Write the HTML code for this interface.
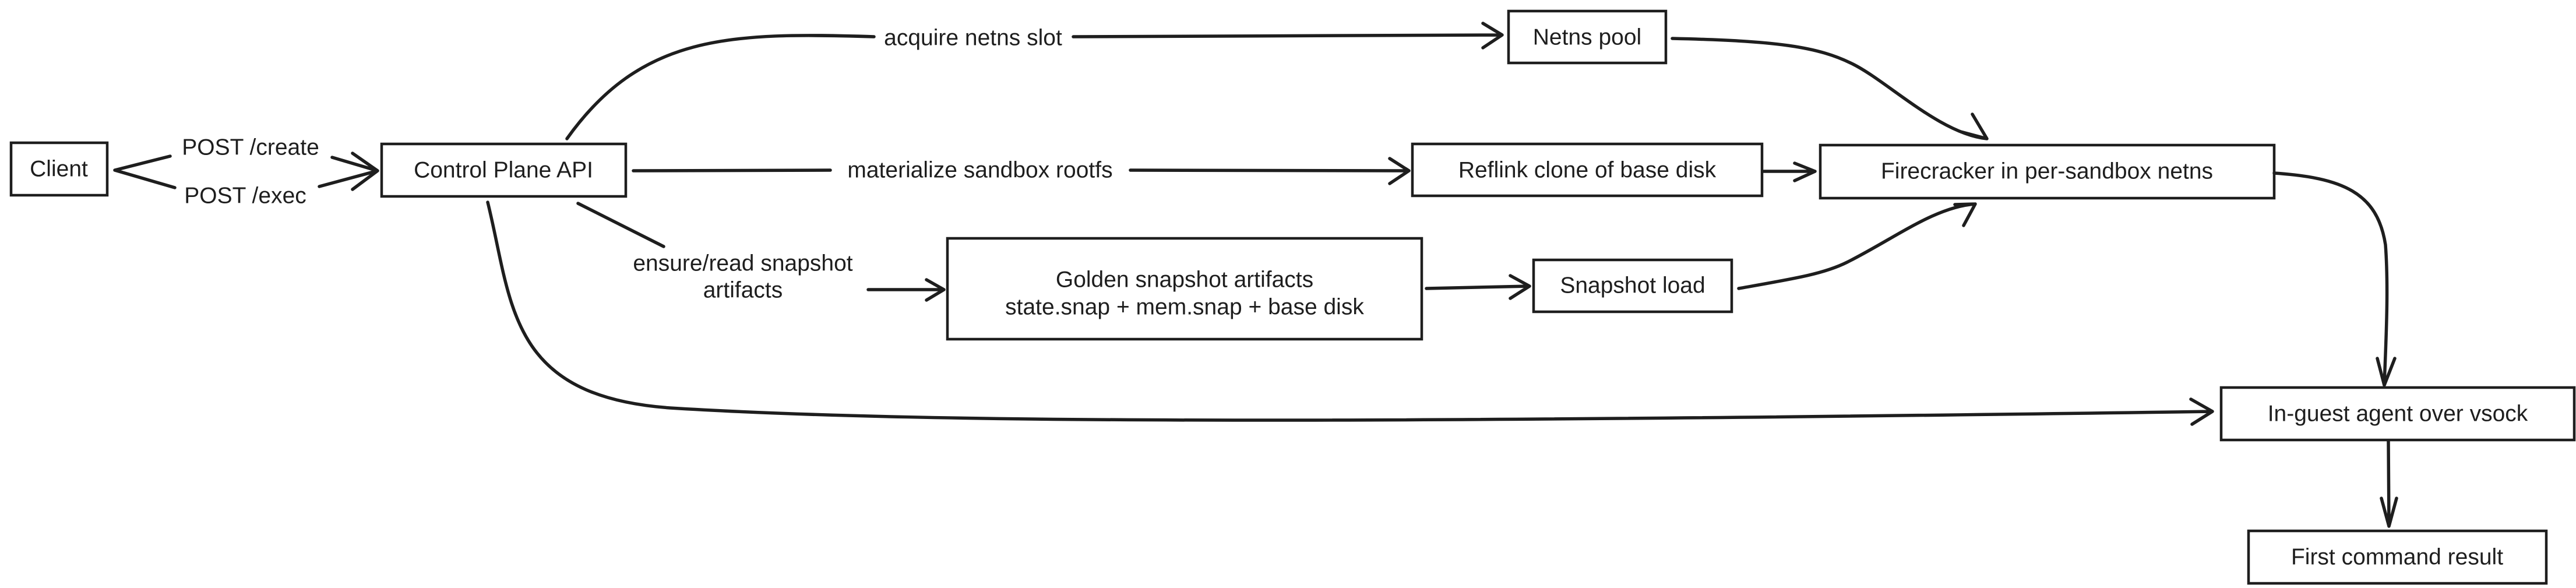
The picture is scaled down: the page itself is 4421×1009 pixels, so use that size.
<!DOCTYPE html>
<html><head><meta charset="utf-8"><style>
html,body{margin:0;padding:0;background:#fff;}
svg{display:block;}
text{font-family:"Liberation Sans",sans-serif;fill:#1e1e1e;font-size:39px;text-anchor:middle;dominant-baseline:central;}
.b{fill:#fff;stroke:#1e1e1e;stroke-width:4.5;}
.l{fill:none;stroke:#1e1e1e;stroke-width:5.5;stroke-linecap:round;stroke-linejoin:round;}
</style></head><body>
<svg width="4421" height="1009" viewBox="0 0 4421 1009" xmlns="http://www.w3.org/2000/svg">
<!-- boxes -->
<rect class="b" x="19" y="245" width="165" height="90"/>
<text x="101" y="290">Client</text>
<rect class="b" x="655" y="247" width="419" height="90"/>
<text x="864" y="292">Control Plane API</text>
<rect class="b" x="2589" y="19" width="270" height="89"/>
<text x="2724" y="64">Netns pool</text>
<rect class="b" x="2424" y="247" width="600" height="89"/>
<text x="2724" y="292">Reflink clone of base disk</text>
<rect class="b" x="3124" y="249" width="779" height="91"/>
<text x="3513" y="294">Firecracker in per-sandbox netns</text>
<rect class="b" x="1626" y="409" width="814" height="173"/>
<text x="2033" y="480">Golden snapshot artifacts</text>
<text x="2033" y="527">state.snap + mem.snap + base disk</text>
<rect class="b" x="2632" y="446" width="340" height="89"/>
<text x="2802" y="490">Snapshot load</text>
<rect class="b" x="3812" y="665" width="606" height="90"/>
<text x="4115" y="710">In-guest agent over vsock</text>
<rect class="b" x="3859" y="911" width="511" height="90"/>
<text x="4114" y="956">First command result</text>

<!-- client -> CP -->
<path class="l" d="M197 292 L292 268 M197 292 L300 322 M570 270 L648 293 M548 320 L648 293 M605 263 L648 293 L605 325"/>
<text x="430" y="253">POST /create</text>
<text x="421" y="336">POST /exec</text>

<!-- CP -> netns -->
<path class="l" d="M973 238 C1100 60 1250 55 1500 63"/>
<path class="l" d="M1842 63 L2575 60 M2545 40 L2578 60 L2545 82"/>
<text x="1670" y="65">acquire netns slot</text>

<!-- netns -> firecracker -->
<path class="l" d="M2870 66 C3050 70 3120 80 3180 110 C3240 140 3330 230 3410 238 M3385 196 L3410 238 L3365 226"/>

<!-- CP -> reflink -->
<path class="l" d="M1087 293 L1425 292 M1940 292 L2418 293 M2385 272 L2418 293 L2385 315"/>
<text x="1682" y="292">materialize sandbox rootfs</text>

<!-- reflink -> firecracker -->
<path class="l" d="M3027 294 L3115 294 M3080 280 L3115 294 L3080 310"/>

<!-- CP -> golden -->
<path class="l" d="M992 349 L1139 423"/>
<text x="1275" y="452">ensure/read snapshot</text>
<text x="1275" y="498">artifacts</text>
<path class="l" d="M1490 497 L1620 497 M1590 480 L1620 497 L1590 515"/>

<!-- golden -> snapshot load -->
<path class="l" d="M2448 495 L2625 491 M2592 473 L2625 491 L2592 512"/>

<!-- snapshot load -> firecracker -->
<path class="l" d="M2984 495 C3080 478 3130 470 3170 450 C3250 410 3320 355 3390 350 M3355 351 L3390 350 L3370 387"/>

<!-- firecracker -> agent -->
<path class="l" d="M3903 297 C4020 305 4080 330 4094 420 C4100 500 4094 600 4092 661 M4080 615 L4092 661 L4110 615"/>

<!-- agent -> first -->
<path class="l" d="M4099 757 L4100 903 M4087 855 L4100 903 L4113 855"/>

<!-- CP -> agent long curve -->
<path class="l" d="M837 347 C880 520 870 680 1150 700 C1600 728 2400 726 3797 706 M3760 685 L3797 706 L3762 728"/>
</svg>
</body></html>
